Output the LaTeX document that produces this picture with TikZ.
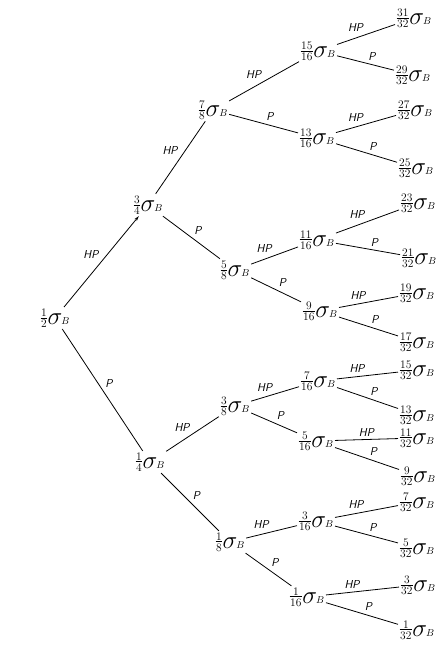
\documentclass[tikz,border=0pt]{standalone}
\usepackage{amsmath}
\usetikzlibrary{arrows.meta}
\newcommand{\fr}[2]{{\fontsize{11.5}{11.5}\selectfont$\vcenter{\offinterlineskip\halign{\hfil\kern0.5pt##\kern0.5pt\hfil\cr #1\cr\noalign{\kern1.2pt\hrule height 0.7pt\kern1.4pt}#2\cr}}$}}
\newcommand{\sv}[2]{\fr{#1}{#2}\kern0.5pt\raisebox{-3.5pt}{{\fontsize{24}{24}\selectfont$\sigma$}\kern-1pt{\fontsize{10}{10}\selectfont$B$}}}
\begin{document}
\begin{tikzpicture}[x=1pt,y=-1pt,
  val/.style={inner sep=1.5pt},
  lab/.style={font=\sffamily\itshape\fontsize{11.5}{12}\selectfont, inner sep=2.5pt, auto},
  br/.style={line width=0.8pt}]
\useasboundingbox (0,0) rectangle (447,655);
% nodes
\node[val] (n0) at (55,318) {\sv{1}{2}};
\node[val] (a) at (148,205) {\sv{3}{4}};
\node[val] (b) at (150,462) {\sv{1}{4}};
\node[val] (aa) at (213,110) {\sv{7}{8}};
\node[val] (ab) at (235,270) {\sv{5}{8}};
\node[val] (ba) at (235,406) {\sv{3}{8}};
\node[val] (bb) at (230,542) {\sv{1}{8}};
\node[val] (aaa) at (318,51) {\sv{15}{16}};
\node[val] (aab) at (317,138) {\sv{13}{16}};
\node[val] (aba) at (317,240) {\sv{11}{16}};
\node[val] (abb) at (320,311) {\sv{9}{16}};
\node[val] (baa) at (318,381) {\sv{7}{16}};
\node[val] (bab) at (316,441) {\sv{5}{16}};
\node[val] (bba) at (316,521) {\sv{3}{16}};
\node[val] (bbb) at (307,597) {\sv{1}{16}};
\node[val] (l31) at (414,18) {\sv{31}{32}};
\node[val] (l29) at (413,75) {\sv{29}{32}};
\node[val] (l27) at (415,110) {\sv{27}{32}};
\node[val] (l25) at (416,168) {\sv{25}{32}};
\node[val] (l23) at (418,203) {\sv{23}{32}};
\node[val] (l21) at (419,258) {\sv{21}{32}};
\node[val] (l19) at (417,293) {\sv{19}{32}};
\node[val] (l17) at (417,342) {\sv{17}{32}};
\node[val] (l15) at (417,370) {\sv{15}{32}};
\node[val] (l13) at (417,415) {\sv{13}{32}};
\node[val] (l11) at (417,438) {\sv{11}{32}};
\node[val] (l9) at (418,476) {\sv{9}{32}};
\node[val] (l7) at (417,502) {\sv{7}{32}};
\node[val] (l5) at (417,548) {\sv{5}{32}};
\node[val] (l3) at (418,585) {\sv{3}{32}};
\node[val] (l1) at (417,630) {\sv{1}{32}};
% edges
\draw[br,-{Stealth[length=5pt,width=3pt]}] (n0) -- node[lab]{HP} (a);
\draw[br] (n0) -- node[lab]{P} (b);
\draw[br] (a) -- node[lab]{HP} (aa);
\draw[br] (a) -- node[lab]{P} (ab);
\draw[br] (b) -- node[lab]{HP} (ba);
\draw[br] (b) -- node[lab]{P} (bb);
\draw[br] (aa) -- node[lab]{HP} (aaa);
\draw[br] (aa) -- node[lab]{P} (aab);
\draw[br] (ab) -- node[lab]{HP} (aba);
\draw[br] (ab) -- node[lab]{P} (abb);
\draw[br] (ba) -- node[lab]{HP} (baa);
\draw[br] (ba) -- node[lab]{P} (bab);
\draw[br] (bb) -- node[lab]{HP} (bba);
\draw[br] (bb) -- node[lab]{P} (bbb);
\draw[br] (aaa) -- node[lab]{HP} (l31);
\draw[br] (aaa) -- node[lab]{P} (l29);
\draw[br] (aab) -- node[lab]{HP} (l27);
\draw[br] (aab) -- node[lab]{P} (l25);
\draw[br] (aba) -- node[lab]{HP} (l23);
\draw[br] (aba) -- node[lab]{P} (l21);
\draw[br] (abb) -- node[lab]{HP} (l19);
\draw[br] (abb) -- node[lab]{P} (l17);
\draw[br] (baa) -- node[lab]{HP} (l15);
\draw[br] (baa) -- node[lab]{P} (l13);
\draw[br] (bab) -- node[lab]{HP} (l11);
\draw[br] (bab) -- node[lab]{P} (l9);
\draw[br] (bba) -- node[lab]{HP} (l7);
\draw[br] (bba) -- node[lab]{P} (l5);
\draw[br] (bbb) -- node[lab]{HP} (l3);
\draw[br] (bbb) -- node[lab]{P} (l1);
\end{tikzpicture}
\end{document}
